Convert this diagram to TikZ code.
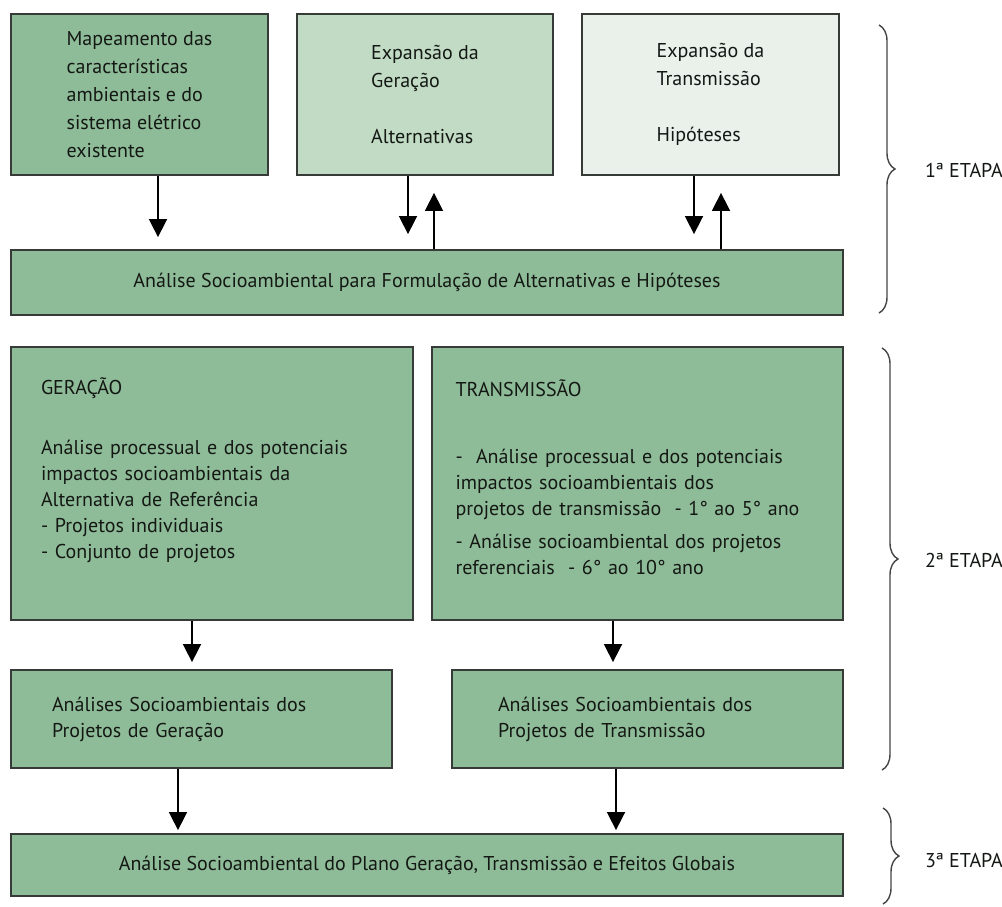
\documentclass[tikz,border=0pt]{standalone}
\usepackage{fontspec}
\setmainfont{PT Sans}
\usepackage{tikz}
\usetikzlibrary{arrows.meta}
\usetikzlibrary{decorations.pathreplacing}
\definecolor{boxgreen}{RGB}{143,188,152}
\definecolor{lightgreen}{RGB}{193,219,196}
\definecolor{palegreen}{RGB}{233,241,234}
\definecolor{ink}{RGB}{20,24,20}
\newcommand\boxfont{\fontsize{10}{14}\selectfont}
\newcommand\listfont{\fontsize{10}{13}\selectfont}
\tikzstyle{blkhead}=[>/.tip={Triangle[length=9pt,width=9pt]}]
\tikzstyle{blk}=[line width=.8pt,blkhead,->]
\tikzstyle{stage}=[draw=ink!85,line width=.9pt,fill=boxgreen,inner sep=0pt,text=ink,font=\boxfont]
\tikzstyle{etapa}=[draw=ink!80,decorate,decoration={brace,amplitude=8pt},line width=.7pt]

\begin{document}
\begin{tikzpicture}[x=.5pt,y=-.5pt]
	\useasboundingbox (0,0) rectangle (1002,906);
	% 1a etapa
	\node[stage,minimum width=128.5pt,minimum height=80.5pt,align=left] (map) at (139.5,94.5)
		{Mapeamento das\\características\\ambientais e do\\sistema elétrico\\existente};
	\node[stage,fill=lightgreen,minimum width=128pt,minimum height=80.5pt,align=left] (gen) at (425,94.5)
		{Expansão da\\Geração\\[14pt]Alternativas};
	\node[stage,fill=palegreen,minimum width=128.5pt,minimum height=80.5pt,align=left] (trn) at (710.5,94.5)
		{Expansão da\\Transmissão\\[14pt]Hipóteses};
	\node[stage,minimum width=416pt,minimum height=32.5pt] (alt) at (427,282.5)
		{Análise Socioambiental para Formulação de Alternativas e Hipóteses};
	\draw[blk,shorten >=6pt]   (map.south -| 158,0) -- (alt.north -| 158,0);
	\draw[blk,shorten >=7.5pt] (gen.south -| 408,0) -- (alt.north -| 408,0);
	\draw[blk,shorten >=8.5pt] (alt.north -| 434,0) -- (gen.south -| 434,0);
	\draw[blk,shorten >=7.5pt] (trn.south -| 694,0) -- (alt.north -| 694,0);
	\draw[blk,shorten >=8.5pt] (alt.north -| 721,0) -- (trn.south -| 721,0);
	% 2a etapa
	\node[stage,minimum width=201pt,minimum height=136.5pt,text width=171pt,inner xsep=15pt,align=left,font=\listfont] (geracao) at (212,483.5)
		{GERAÇÃO\\[17pt]
		 Análise processual e dos potenciais\\impactos socioambientais da\\Alternativa de Referência\\- Projetos individuais\\- Conjunto de projetos\par\vspace*{13pt}};
	\node[stage,minimum width=205.5pt,minimum height=136.5pt,text width=182pt,inner xsep=11.75pt,align=left,font=\listfont] (transm) at (637.5,483.5)
		{TRANSMISSÃO\\[20.5pt]
		 -\ \ Análise processual e dos potenciais\\impactos socioambientais dos\\projetos de transmissão\ \ - 1° ao 5° ano\\[3.5pt]
		 - Análise socioambiental dos projetos\\referenciais\ \ - 6° ao 10° ano\par\vspace*{6.5pt}};
	\node[stage,minimum width=190.5pt,minimum height=49pt,text width=149.5pt,inner xsep=20.5pt,align=left,font=\listfont] (ageracao) at (201.5,719)
		{Análises Socioambientais dos\\Projetos de Geração};
	\node[stage,minimum width=195.5pt,minimum height=49pt,text width=149.5pt,inner xsep=23pt,align=left,font=\listfont] (atransm) at (647.5,719)
		{Análises Socioambientais dos\\Projetos de Transmissão};
	\draw[blk,shorten >=3.5pt] (geracao.south -| 192,0) -- (ageracao.north -| 192,0);
	\draw[blk,shorten >=3.5pt] (transm.south -| 613,0) -- (atransm.north -| 613,0);
	% 3a etapa
	\node[stage,minimum width=416pt,minimum height=31pt] (plano) at (427,865)
		{Análise Socioambiental do Plano Geração, Transmissão e Efeitos Globais};
	\draw[blk,shorten >=1.5pt] (ageracao.south -| 178,0) -- (plano.north -| 178,0);
	\draw[blk,shorten >=1.5pt] (atransm.south -| 616,0) -- (plano.north -| 616,0);
	% etapas
	\draw[etapa] (879,25) -- (879,313);
	\draw[etapa] (882,348) -- (882,770);
	\draw[etapa] (883,808) -- (883,904);
	\node[anchor=west,text=ink,font=\boxfont] (etapa1) at (918,170) {1ª ETAPA};
	\node[anchor=west,text=ink,font=\boxfont] (etapa2) at (918,560) {2ª ETAPA};
	\node[anchor=west,text=ink,font=\boxfont] (etapa3) at (918,860) {3ª ETAPA};
\end{tikzpicture}
\end{document}
